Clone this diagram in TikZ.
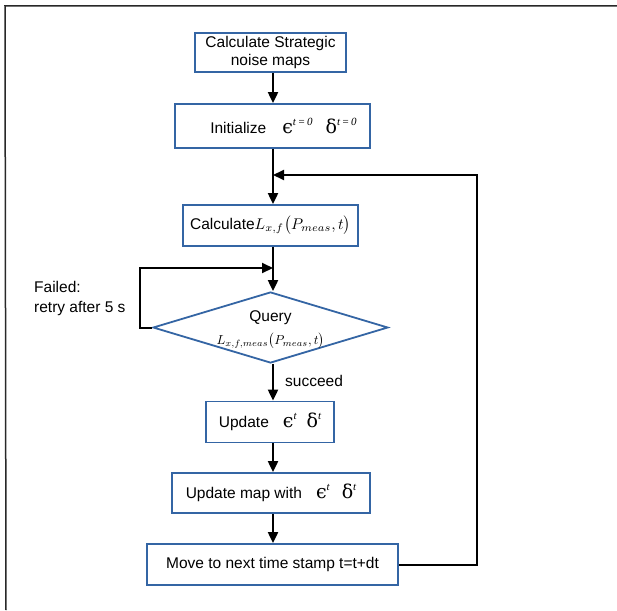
\documentclass[tikz,border=0pt]{standalone}
\usepackage{graphicx}
\usepackage{fontspec}
\setmainfont{Liberation Sans}
\newfontfamily\greekfont{DejaVu Serif}
\newfontfamily\supfont{Liberation Serif}
\usetikzlibrary{shapes.geometric,arrows.meta}
\definecolor{boxblue}{RGB}{52,101,164}
\definecolor{framegray}{RGB}{40,40,40}
\newcommand{\mymath}[2][1.55]{\scalebox{#1}{\fontsize{10}{12}\selectfont$#2$}}
\newcommand{\gsym}[2]{{\greekfont\fontsize{19}{19}\selectfont #1}\raisebox{8pt}{\supfont\itshape\fontsize{11}{12}\selectfont #2}}
\tikzset{
  flowbox/.style={draw=boxblue, line width=1.8pt, fill=white, inner sep=0pt, align=center, font=\fontsize{15.5}{18}\selectfont},
  decide/.style={shape=diamond, draw=boxblue, line width=1.8pt, inner sep=0pt, aspect=3.3, minimum width=235pt, minimum height=71pt},
  intext/.style={inner sep=0pt, align=center, font=\fontsize{15.5}{18}\selectfont},
  arr/.style={line width=2pt, -{Triangle[length=11pt,width=10pt]}},
  lbl/.style={inner sep=0pt, align=left, font=\fontsize{15.5}{20}\selectfont}
}
\begin{document}
\begin{tikzpicture}[x=1pt,y=-1pt]
\useasboundingbox (0,0) rectangle (617,610);
\draw[framegray, line width=1.5pt] (617,6) -- (5,6) coordinate (fA) -- (6,610) coordinate (fB);
\node[flowbox, minimum width=151pt, minimum height=39pt] (b1) at (270.5,52.5) {Calculate Strategic\\noise maps};
\node[flowbox, minimum width=195pt, minimum height=44pt] (b2) at (272.5,126) {\hspace*{22pt}Initialize\hspace{16pt}\gsym{ϵ}{t\,=\,0}\hspace{13pt}\gsym{δ}{t\,=\,0}};
\node[flowbox, minimum width=175pt, minimum height=41pt] (b3) at (270.5,225.5) {Calculate\mymath{L_{x,f}\bigl(P_{meas},t\bigr)}};
\node[decide] (q) at (270.5,327.5) {};
\node[intext] (qt) at (270.5,317.5) {Query};
\node[intext] (qf) at (270.5,341) {\mymath[1.3]{L_{x,f,meas}\bigl(P_{meas},t\bigr)}};
\node[flowbox, minimum width=128pt, minimum height=41pt] (b4) at (270,422) {Update\hspace{14pt}\gsym{ϵ}{t}\hspace{10pt}\gsym{δ}{t}};
\node[flowbox, minimum width=198pt, minimum height=40pt] (b5) at (271,493) {Update map with\hspace{14pt}\gsym{ϵ}{t}\hspace{12pt}\gsym{δ}{t}};
\node[flowbox, minimum width=251pt, minimum height=41pt] (b6) at (272.5,564.5) {Move to next time stamp t=t+dt};
\node[lbl, anchor=west] (fl) at (34,298) {Failed:\\retry after 5 s};
\node[lbl, anchor=west] (sl) at (285,381) {succeed};
\coordinate (cx) at (273,0);
\coordinate (loopR) at (477,175);
\coordinate (failL) at (140,268);
\draw[arr] (b1.south -| cx) -- (b2.north -| cx);
\draw[arr] (b2.south -| cx) -- (b3.north -| cx);
\draw[arr] (b3.south -| cx) -- (q.north -| cx);
\draw[arr] (q.south -| cx) -- (b4.north -| cx);
\draw[arr] (b4.south -| cx) -- (b5.north -| cx);
\draw[arr] (b5.south -| cx) -- (b6.north -| cx);
\draw[arr] (b6.east) -| (loopR) -- (loopR -| cx);
\draw[arr] (q.west) -| (failL) -- (failL -| cx);
\end{tikzpicture}
\end{document}
